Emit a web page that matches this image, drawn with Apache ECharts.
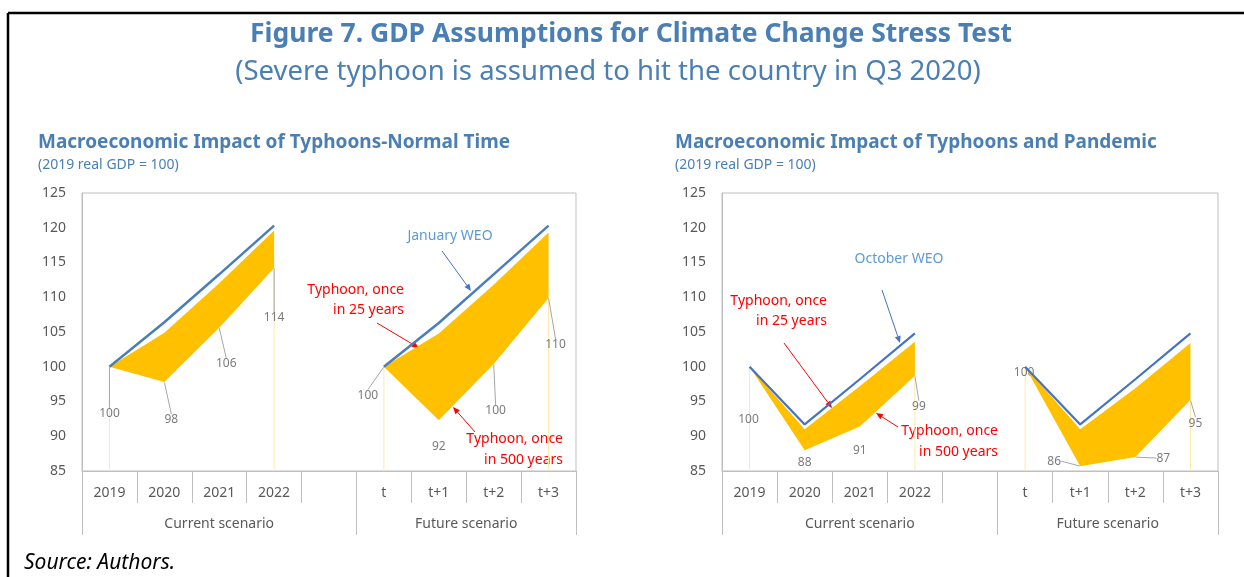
<!DOCTYPE html>
<html>
<head>
<meta charset="utf-8">
<script src="https://cdn.jsdelivr.net/npm/echarts@6/dist/echarts.min.js"></script>
<style>
  html, body { margin: 0; padding: 0; background: #fff; }
  #chart { width: 1244px; height: 577px; }
</style>
</head>
<body>
<div id="chart"></div>
<script>
const FONT = 'Noto Sans'

const categories = ['2019', '2020', '2021', '2022', '', 't', 't+1', 't+2', 't+3']
const groups = ['Current scenario', 'Future scenario']

// left panel: typhoons in normal times (2019 real GDP = 100)
const normalWeo = [100, 106.4, 113.3, 120.3, null, 100, 106.3, 113.3, 120.3]
const normal25 = [100, 104.9, 112.0, 119.6, null, 100, 104.8, 111.8, 119.3]
const normal500 = [100, 97.8, 105.6, 114.2, null, 100, 92.3, 100.4, 109.9]

// right panel: typhoons and pandemic
const pandemicWeo = [100, 91.7, 98.2, 104.8, null, 100, 91.7, 98.2, 104.8]
const pandemic25 = [100, 91.0, 97.2, 103.6, null, 100, 91.0, 96.9, 103.4]
const pandemic500 = [100, 88.0, 91.4, 98.7, null, 100, 85.7, 87.0, 95.2]

// data label nudges (px) and whether a leader line is drawn
const normalLabelShift = [[0, 47], [7, 38], [7, 36], [0, 50], null, [-16, 29], [0, 26], [2, 47], [7, 47]]
const normalLeader = [1, 1, 1, 1, 0, 1, 0, 1, 1]
const pandemicLabelShift = [[-1, 53], [0, 12], [0, 24], [4, 31], null, [-1, 6], [-26, -5], [28, 1], [5, 23]]
const pandemicLeader = [0, 0, 0, 1, 0, 0, 1, 1, 1]

const segments = [[0, 3], [5, 8]]
const GREY = '#595959'
const AXIS = '#bfbfbf'
const TITLE_BLUE = '#4a7fb5'

function segment(arr, a, b) {
  return arr.map((v, i) => (i >= a && i <= b ? v : null))
}

function endpoints(arr) {
  return arr.map((v, i) => (segments.some(s => s[0] === i || s[1] === i) ? v : null))
}

function panelAxes(g) {
  const x = {
    type: 'category', gridIndex: g, data: categories, boundaryGap: true,
    axisLine: { lineStyle: { color: AXIS } },
    axisTick: { show: true, interval: 0, length: 32, lineStyle: { color: AXIS } },
    axisLabel: { interval: 0, margin: 15, color: GREY, fontSize: 14, fontFamily: FONT },
  }
  const grp = {
    type: 'value', gridIndex: g, min: 0, max: 9, position: 'bottom',
    axisLine: { show: false }, splitLine: { show: false },
    axisTick: { show: true, customValues: [0, 5, 9], length: 64, lineStyle: { color: AXIS } },
    axisLabel: {
      customValues: [2.5, 7], margin: 46, color: GREY, fontSize: 14, fontFamily: FONT,
      formatter: v => (v < 5 ? groups[0] : groups[1]),
    },
  }
  const y = {
    type: 'value', gridIndex: g, min: 85, max: 125, interval: 5,
    axisLine: { show: true, lineStyle: { color: AXIS } },
    axisTick: { show: false }, splitLine: { show: false },
    axisLabel: { color: GREY, fontSize: 14, fontFamily: FONT, margin: 16 },
  }
  return { x, grp, y }
}

function panelSeries(g, weo, s25, s500, lineColor, lineWidth, shift, leader) {
  const ax = { xAxisIndex: g * 2, yAxisIndex: g }
  const out = []
  out.push({
    ...ax, type: 'bar', barWidth: 1, silent: true, z: 1,
    itemStyle: { color: '#ffe9a8' },
    data: endpoints(s500),
  })
  segments.forEach(([a, b], k) => {
    const stack = 'band' + g + '_' + k
    const low = segment(s500, a, b)
    const high = segment(s25, a, b)
    out.push({
      ...ax, type: 'line', stack, symbol: 'none', silent: true,
      lineStyle: { width: 0, opacity: 0 },
      data: low,
    })
    out.push({
      ...ax, type: 'line', stack, symbol: 'none', silent: true,
      lineStyle: { width: 0, opacity: 0 },
      areaStyle: { color: '#ffc000', opacity: 1 },
      data: high.map((v, i) => (v == null ? null : v - low[i])),
    })
  })
  out.push({
    ...ax, type: 'line', symbol: 'none', connectNulls: false, silent: true,
    lineStyle: { color: lineColor, width: lineWidth },
    data: weo,
  })
  out.push({
    ...ax, type: 'scatter', symbolSize: 1, silent: true,
    itemStyle: { color: 'rgba(0,0,0,0)' },
    label: {
      show: true, position: 'inside', color: GREY, fontSize: 12, fontFamily: FONT,
      formatter: p => Math.round(p.value),
    },
    labelLine: { show: true, lineStyle: { color: '#a6a6a6', width: 1 } },
    labelLayout: p => {
      const s = shift[p.dataIndex] || [0, 0]
      return { dx: s[0], dy: s[1] }
    },
    data: s500.map((v, i) => (v == null ? null : { value: v, labelLine: { show: !!leader[i] } })),
  })
  return out
}

function arrow(x1, y1, x2, y2, color) {
  const ang = Math.atan2(y2 - y1, x2 - x1)
  const len = 7, half = 3
  const bx = x2 - len * Math.cos(ang), by = y2 - len * Math.sin(ang)
  const px = -Math.sin(ang) * half, py = Math.cos(ang) * half
  return [
    { type: 'line', silent: true, shape: { x1, y1, x2: bx, y2: by }, style: { stroke: color, lineWidth: 1 } },
    { type: 'polygon', silent: true, shape: { points: [[x2, y2], [bx + px, by + py], [bx - px, by - py]] }, style: { fill: color } },
  ]
}

function text(str, x, y, opts) {
  return {
    type: 'text', x, y, silent: true,
    style: Object.assign({
      text: str, fontFamily: FONT, fontSize: 14, fill: '#ff0000',
      align: 'left', textAlign: 'left', verticalAlign: 'middle', textVerticalAlign: 'middle',
    }, opts),
  }
}

const left = panelAxes(0)
const right = panelAxes(1)

const graphic = [
  { type: 'line', silent: true, shape: { x1: 8, y1: 13, x2: 1244, y2: 13 }, style: { stroke: '#000', lineWidth: 2.5 } },
  { type: 'line', silent: true, shape: { x1: 8, y1: 13, x2: 8, y2: 577 }, style: { stroke: '#000', lineWidth: 2.5 } },
  text('Figure 7. GDP Assumptions for Climate Change Stress Test', 631, 34,
    { fontSize: 26.5, fontWeight: 'bold', fill: TITLE_BLUE, align: 'center', textAlign: 'center' }),
  text('(Severe typhoon is assumed to hit the country in Q3 2020)', 608, 72,
    { fontSize: 27.5, fill: TITLE_BLUE, align: 'center', textAlign: 'center' }),
  text('Macroeconomic Impact of Typhoons-Normal Time', 38, 143, { fontSize: 19, fontWeight: 'bold', fill: TITLE_BLUE }),
  text('(2019 real GDP = 100)', 38, 165, { fontSize: 14, fill: TITLE_BLUE }),
  text('Macroeconomic Impact of Typhoons and Pandemic', 675, 143, { fontSize: 19, fontWeight: 'bold', fill: TITLE_BLUE }),
  text('(2019 real GDP = 100)', 675, 165, { fontSize: 14, fill: TITLE_BLUE }),
  text('Source: Authors.', 24, 563, { fontSize: 21, fontStyle: 'italic', fill: '#000' }),

  // left panel notes
  text('January WEO', 450, 236, { fill: '#5b9bd5', align: 'center', textAlign: 'center' }),
  ...arrow(442, 251, 471, 291, '#4472c4'),
  text('Typhoon, once', 404, 290, { align: 'right', textAlign: 'right' }),
  text('in 25 years', 404, 310, { align: 'right', textAlign: 'right' }),
  ...arrow(377, 323, 419, 348, '#ff0000'),
  text('Typhoon, once', 563, 439, { align: 'right', textAlign: 'right' }),
  text('in 500 years', 563, 460, { align: 'right', textAlign: 'right' }),
  ...arrow(475, 432, 453, 407, '#ff0000'),

  // right panel notes
  text('October WEO', 899, 259, { fill: '#5b9bd5', align: 'center', textAlign: 'center' }),
  ...arrow(882, 290, 900, 343, '#4472c4'),
  text('Typhoon, once', 827, 301, { align: 'right', textAlign: 'right' }),
  text('in 25 years', 827, 321, { align: 'right', textAlign: 'right' }),
  ...arrow(784, 343, 832, 408, '#ff0000'),
  text('Typhoon, once', 998, 431, { align: 'right', textAlign: 'right' }),
  text('in 500 years', 998, 452, { align: 'right', textAlign: 'right' }),
  ...arrow(898, 427, 876, 413, '#ff0000'),
]

const option = {
  animation: false,
  backgroundColor: '#fff',
  textStyle: { fontFamily: FONT },
  grid: [
    { left: 82, top: 193, width: 494, height: 278, show: true, borderColor: AXIS, borderWidth: 1 },
    { left: 722, top: 193, width: 496, height: 278, show: true, borderColor: AXIS, borderWidth: 1 },
  ],
  xAxis: [left.x, left.grp, right.x, right.grp],
  yAxis: [left.y, right.y],
  series: [
    ...panelSeries(0, normalWeo, normal25, normal500, '#4a7ebb', 2.5, normalLabelShift, normalLeader),
    ...panelSeries(1, pandemicWeo, pandemic25, pandemic500, '#4472c4', 2.2, pandemicLabelShift, pandemicLeader),
  ],
  graphic,
}

const chart = echarts.init(document.getElementById('chart'))
chart.setOption(option)
</script>
</body>
</html>
